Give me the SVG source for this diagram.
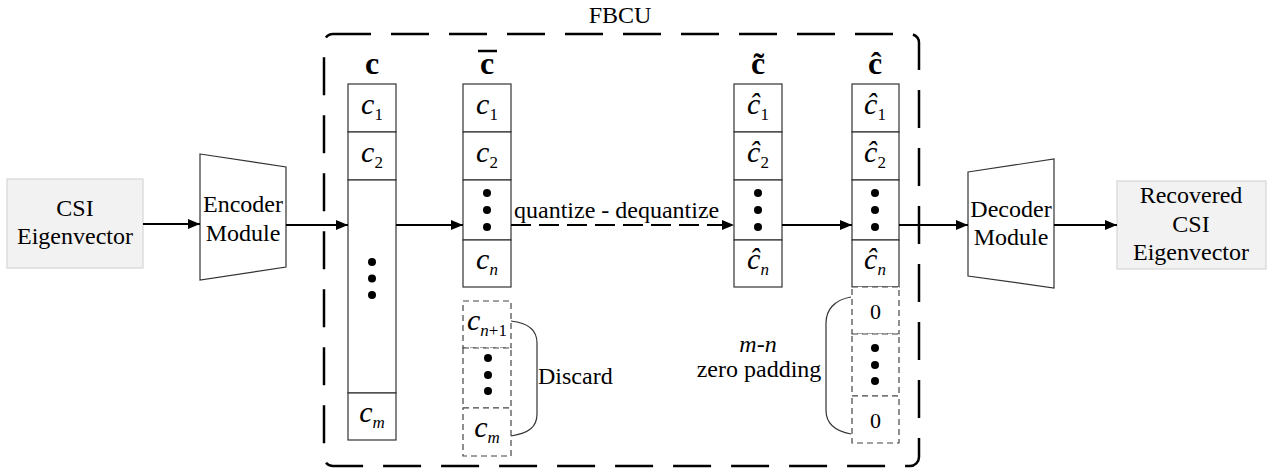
<svg xmlns="http://www.w3.org/2000/svg" width="1274" height="472" viewBox="0 0 1274 472" font-family="'Liberation Serif', 'Times New Roman', Tinos, 'DejaVu Serif', serif">
<style>
text{font-family:'Liberation Serif','Times New Roman',Tinos,'DejaVu Serif',serif;fill:#000}
.t{font-size:24px;text-anchor:middle}
.m{font-size:30px;font-style:italic;text-anchor:middle}
.sub{font-size:17px;font-style:normal}
.si{font-size:17px;font-style:italic}
.b{font-size:32px;font-weight:bold;text-anchor:middle}
.io{fill:#f2f2f2;stroke:#d6d6d6;stroke-width:1.2}
.mod{fill:#fff;stroke:#333;stroke-width:1.2}
.cell{fill:#fff;stroke:#333;stroke-width:1.2}
.dcell{fill:#fff;stroke:#444;stroke-width:1.2;stroke-dasharray:6 4}
.ar{stroke:#000;stroke-width:2;fill:none;marker-end:url(#ah)}
.br{fill:none;stroke:#333;stroke-width:1.2}
.dot{fill:#000}
</style>
<defs>
<marker id="ah" markerUnits="userSpaceOnUse" markerWidth="13" markerHeight="11" refX="12" refY="5" orient="auto">
<path d="M0,0 L12,5 L0,10 z" fill="#000"/>
</marker>
</defs>

<g id="fbcu">
<rect x="324" y="34" width="595" height="432" rx="9" fill="none" stroke="#000" stroke-width="2.5" stroke-dasharray="38 20"/>
<text class="t" x="620" y="23">FBCU</text>
</g>

<g id="csi-in">
<rect class="io" x="7" y="179" width="136" height="89"/>
<text class="t" x="75" y="216">CSI</text>
<text class="t" x="75" y="244">Eigenvector</text>
</g>

<g id="encoder">
<polygon class="mod" points="200,154 286,167 286,267 200,280"/>
<text class="t" x="243" y="212">Encoder</text>
<text class="t" x="243" y="241">Module</text>
</g>

<g id="decoder">
<polygon class="mod" points="968,172 1054,159 1054,288 968,276"/>
<text class="t" x="1011" y="217">Decoder</text>
<text class="t" x="1011" y="245">Module</text>
</g>

<g id="csi-out">
<rect class="io" x="1117" y="181" width="149" height="88"/>
<text class="t" x="1191" y="203">Recovered</text>
<text class="t" x="1191" y="232">CSI</text>
<text class="t" x="1191" y="260">Eigenvector</text>
</g>

<g id="vec-c">
<text class="b" x="372" y="74">c</text>
<rect class="cell" x="348" y="84" width="48" height="48"/>
<rect class="cell" x="348" y="132" width="48" height="48"/>
<rect class="cell" x="348" y="180" width="48" height="213"/>
<rect class="cell" x="348" y="393" width="48" height="47"/>
<text class="m" x="372" y="114">c<tspan class="sub" dy="6">1</tspan></text>
<text class="m" x="372" y="162">c<tspan class="sub" dy="6">2</tspan></text>
<circle class="dot" cx="372" cy="262" r="4"/>
<circle class="dot" cx="372" cy="278.5" r="4"/>
<circle class="dot" cx="372" cy="295" r="4"/>
<text class="m" x="372" y="422">c<tspan class="si" dy="6">m</tspan></text>
</g>

<g id="vec-cbar">
<text class="b" x="487" y="74">c</text>
<line x1="478" y1="51" x2="497" y2="51" stroke="#000" stroke-width="2.5"/>
<rect class="cell" x="463" y="84" width="48" height="48"/>
<rect class="cell" x="463" y="132" width="48" height="48"/>
<rect class="cell" x="463" y="180" width="48" height="60"/>
<rect class="cell" x="463" y="240" width="48" height="47"/>
<text class="m" x="487" y="114">c<tspan class="sub" dy="6">1</tspan></text>
<text class="m" x="487" y="162">c<tspan class="sub" dy="6">2</tspan></text>
<circle class="dot" cx="487" cy="193" r="4"/>
<circle class="dot" cx="487" cy="210" r="4"/>
<circle class="dot" cx="487" cy="227" r="4"/>
<text class="m" x="487" y="269">c<tspan class="si" dy="6">n</tspan></text>
<rect class="dcell" x="463" y="301" width="48" height="47"/>
<rect class="dcell" x="463" y="348" width="48" height="60"/>
<rect class="dcell" x="463" y="408" width="48" height="48"/>
<text class="m" x="487" y="330">c<tspan class="si" dy="6">n</tspan><tspan class="sub">+1</tspan></text>
<circle class="dot" cx="488" cy="358" r="4"/>
<circle class="dot" cx="488" cy="375" r="4"/>
<circle class="dot" cx="488" cy="391" r="4"/>
<text class="m" x="487" y="437">c<tspan class="si" dy="6">m</tspan></text>
<path class="br" d="M511,321 C529,323 537,330 537,343 L537,414 C537,427 529,433 511,436"/>
<text x="538" y="384" style="font-size:24px">Discard</text>
</g>

<g id="vec-ctilde">
<text class="b" x="758" y="74">c&#x303;</text>
<rect class="cell" x="734" y="84" width="48" height="48"/>
<rect class="cell" x="734" y="132" width="48" height="48"/>
<rect class="cell" x="734" y="180" width="48" height="60"/>
<rect class="cell" x="734" y="240" width="48" height="47"/>
<text class="m" x="758" y="114">ĉ<tspan class="sub" dy="6">1</tspan></text>
<text class="m" x="758" y="162">ĉ<tspan class="sub" dy="6">2</tspan></text>
<circle class="dot" cx="758" cy="193" r="4"/>
<circle class="dot" cx="758" cy="210" r="4"/>
<circle class="dot" cx="758" cy="227" r="4"/>
<text class="m" x="758" y="269">ĉ<tspan class="si" dy="6">n</tspan></text>
</g>

<g id="vec-chat">
<text class="b" x="875" y="74">ĉ</text>
<rect class="cell" x="852" y="84" width="47" height="48"/>
<rect class="cell" x="852" y="132" width="47" height="48"/>
<rect class="cell" x="852" y="180" width="47" height="60"/>
<rect class="cell" x="852" y="240" width="47" height="47"/>
<text class="m" x="875" y="114">ĉ<tspan class="sub" dy="6">1</tspan></text>
<text class="m" x="875" y="162">ĉ<tspan class="sub" dy="6">2</tspan></text>
<circle class="dot" cx="875" cy="193" r="4"/>
<circle class="dot" cx="875" cy="210" r="4"/>
<circle class="dot" cx="875" cy="227" r="4"/>
<text class="m" x="875" y="269">ĉ<tspan class="si" dy="6">n</tspan></text>
<rect class="dcell" x="852" y="287" width="47" height="47"/>
<rect class="dcell" x="852" y="334" width="47" height="62"/>
<rect class="dcell" x="852" y="396" width="47" height="47"/>
<text class="t" x="875.5" y="319" style="font-size:22px">0</text>
<circle class="dot" cx="875" cy="348" r="4"/>
<circle class="dot" cx="875" cy="365" r="4"/>
<circle class="dot" cx="875" cy="381" r="4"/>
<text class="t" x="875.5" y="428" style="font-size:22px">0</text>
<path class="br" d="M851,297 C834,300 826,310 826,323 L826,410 C826,423 834,431 851,434"/>
<text class="t" x="758" y="352" style="font-style:italic">m-n</text>
<text class="t" x="759" y="377">zero padding</text>
</g>

<g id="connectors">
<line class="ar" x1="143" y1="224" x2="200" y2="224"/>
<line class="ar" x1="286" y1="225" x2="348" y2="225"/>
<line class="ar" x1="396" y1="225" x2="463" y2="225"/>
<line class="ar" x1="511" y1="225" x2="734" y2="225" stroke-dasharray="20 8"/>
<line class="ar" x1="782" y1="225" x2="852" y2="225"/>
<line class="ar" x1="899" y1="225" x2="968" y2="225"/>
<line class="ar" x1="1054" y1="225" x2="1117" y2="225"/>
<text x="514" y="218" style="font-size:24px">quantize - dequantize</text>
</g>
</svg>
